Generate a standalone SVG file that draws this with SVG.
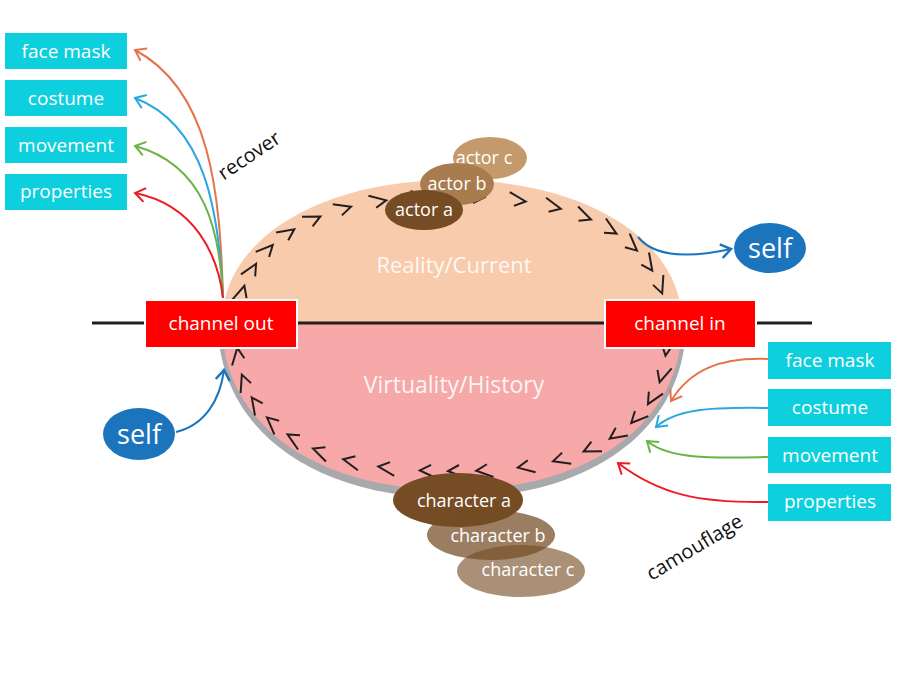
<svg xmlns="http://www.w3.org/2000/svg" width="900" height="680" viewBox="0 0 900 680">
<style>
.txt{font-family:"Open Sans","Noto Sans","DejaVu Sans",sans-serif;fill:#ffffff;text-anchor:middle}
.box{fill:#0dcfdd}
.lbl{font-size:19px}
.chan{fill:#ff0000;stroke:#ffffff;stroke-width:2}
.conn{fill:none;stroke-width:2}
.dark{font-family:"Open Sans","Noto Sans","DejaVu Sans",sans-serif;fill:#111111;font-size:20px;text-anchor:middle}
</style>
<defs>
<marker id="chev" viewBox="-16 -10 22 20" refX="0" refY="0" markerWidth="22" markerHeight="20" markerUnits="userSpaceOnUse" orient="auto" overflow="visible">
<path d="M-13,-7 L4,0 L-7,6" fill="none" stroke="#231f20" stroke-width="2"/>
</marker>
<marker id="aO" viewBox="-12 -9 14 18" refX="0" refY="0" markerWidth="14" markerHeight="18" markerUnits="userSpaceOnUse" orient="auto"><path d="M-10,-7 L0,0 L-10,7" fill="none" stroke="#e5734b" stroke-width="2"/></marker>
<marker id="aB" viewBox="-12 -9 14 18" refX="0" refY="0" markerWidth="14" markerHeight="18" markerUnits="userSpaceOnUse" orient="auto"><path d="M-10,-7 L0,0 L-10,7" fill="none" stroke="#2aa8e0" stroke-width="2"/></marker>
<marker id="aG" viewBox="-12 -9 14 18" refX="0" refY="0" markerWidth="14" markerHeight="18" markerUnits="userSpaceOnUse" orient="auto"><path d="M-10,-7 L0,0 L-10,7" fill="none" stroke="#6ab344" stroke-width="2"/></marker>
<marker id="aR" viewBox="-12 -9 14 18" refX="0" refY="0" markerWidth="14" markerHeight="18" markerUnits="userSpaceOnUse" orient="auto"><path d="M-10,-7 L0,0 L-10,7" fill="none" stroke="#ed1c24" stroke-width="2"/></marker>
<marker id="aS" viewBox="-12 -9 14 18" refX="0" refY="0" markerWidth="14" markerHeight="18" markerUnits="userSpaceOnUse" orient="auto"><path d="M-10,-7 L0,0 L-10,7" fill="none" stroke="#1c75bc" stroke-width="2.5"/></marker>
</defs>
<rect width="900" height="680" fill="#ffffff"/>

<g id="body">
<path d="M218,323 C218,428 312,498 452,498 C592,498 686,428 686,323 Z" fill="#a7a9ac"/>
<path d="M222,323 C222,240 319,180 452,180 C585,180 682,240 682,323 Z" fill="#f8cbad"/>
<path d="M222,323 C222,423 314,490 452,490 C590,490 682,423 682,323 Z" fill="#f6a9a8"/>
<path d="M666.3,351.9 L660.9,378.4 L650.1,400.8 L634.1,420.2 L613.1,436.6 L587.3,450 L556.9,460.2 L521.7,467.1 L480.2,470.6 L452,471 L423.8,470.6 L382.3,467.1 L347.1,460.2 L316.7,450 L290.9,436.6 L269.9,420.2 L253.9,400.8 L243.1,378.4 L237.7,351.9 L237.7,316.1 L243.1,289.6 L253.9,267.2 L269.9,247.8 L290.9,231.4 L316.7,218 L347.1,207.8 L382.3,200.9 L423.8,197.4 L452,197 L480.2,197.4 L521.7,200.9 L556.9,207.8 L587.3,218 L613.1,231.4 L634.1,247.8 L650.1,267.2 L660.9,289.6 L666.3,316.1" fill="none" stroke="none" marker-start="url(#chev)" marker-mid="url(#chev)" marker-end="url(#chev)"/>
<text class="txt" x="454" y="273" font-size="22" fill-opacity="0.9">Reality/Current</text>
<text class="txt" x="454" y="393" font-size="23" fill-opacity="0.9">Virtuality/History</text>
</g>

<line x1="92" y1="323" x2="812" y2="323" stroke="#231f20" stroke-width="3"/>

<g id="connectors">
<path class="conn" stroke="#e5734b" marker-end="url(#aO)" d="M223,298 C220,190 210,90 135,50"/>
<path class="conn" stroke="#2aa8e0" marker-end="url(#aB)" d="M223,298 C219,210 205,125 135,98"/>
<path class="conn" stroke="#6ab344" marker-end="url(#aG)" d="M223,298 C220,230 205,165 135,146"/>
<path class="conn" stroke="#ed1c24" marker-end="url(#aR)" d="M223,298 C218,255 195,205 135,193"/>
<path class="conn" stroke="#e5734b" marker-end="url(#aO)" d="M768,359 C720,357 690,370 671,401"/>
<path class="conn" stroke="#2aa8e0" marker-end="url(#aB)" d="M768,408 C705,407 675,410 656,427"/>
<path class="conn" stroke="#6ab344" marker-end="url(#aG)" d="M768,457 C715,458 670,460 647,441"/>
<path class="conn" stroke="#ed1c24" marker-end="url(#aR)" d="M768,502 C700,503 660,495 618,463"/>
<path class="conn" stroke="#1c75bc" stroke-width="2.5" marker-end="url(#aS)" d="M638,237 C655,258 690,258 731,249"/>
<path class="conn" stroke="#1c75bc" stroke-width="2.5" marker-end="url(#aS)" d="M176,432 C205,425 220,400 224,370"/>
</g>

<text class="dark" transform="translate(253,161) rotate(-34)">recover</text>
<text class="dark" font-size="21" transform="translate(698,553) rotate(-31)">camouflage</text>

<g id="channel-out"><rect class="chan" x="145" y="300" width="152" height="48"/><text class="txt lbl" x="221" y="330">channel out</text></g>
<g id="channel-in"><rect class="chan" x="605" y="300" width="151" height="48"/><text class="txt lbl" x="680" y="330">channel in</text></g>

<g id="left-face-mask"><rect class="box" x="5" y="33" width="122" height="36"/><text class="txt lbl" x="66" y="58">face mask</text></g>
<g id="left-costume"><rect class="box" x="5" y="80" width="122" height="36"/><text class="txt lbl" x="66" y="105">costume</text></g>
<g id="left-movement"><rect class="box" x="5" y="127" width="122" height="36"/><text class="txt lbl" x="66" y="152">movement</text></g>
<g id="left-properties"><rect class="box" x="5" y="174" width="122" height="36"/><text class="txt lbl" x="66" y="198">properties</text></g>

<g id="right-face-mask"><rect class="box" x="768" y="342" width="123" height="37"/><text class="txt lbl" x="830" y="367">face mask</text></g>
<g id="right-costume"><rect class="box" x="768" y="389" width="123" height="37"/><text class="txt lbl" x="830" y="414">costume</text></g>
<g id="right-movement"><rect class="box" x="768" y="437" width="123" height="36"/><text class="txt lbl" x="830" y="462">movement</text></g>
<g id="right-properties"><rect class="box" x="768" y="484" width="123" height="37"/><text class="txt lbl" x="830" y="508">properties</text></g>

<g id="self-right"><ellipse cx="770" cy="248" rx="36" ry="25" fill="#1c75bc"/><text class="txt" x="770" y="258" font-size="27">self</text></g>
<g id="self-left"><ellipse cx="139" cy="434" rx="36" ry="26" fill="#1c75bc"/><text class="txt" x="139" y="444" font-size="27">self</text></g>

<g id="actor-c"><ellipse cx="490" cy="158" rx="37" ry="21" fill="#c49a6c"/><text class="txt" x="484" y="164" font-size="18">actor c</text></g>
<g id="actor-b"><ellipse cx="457" cy="184" rx="37" ry="21" fill="#a97c50"/><text class="txt" x="457" y="190" font-size="18">actor b</text></g>
<g id="actor-a"><ellipse cx="424" cy="210" rx="39" ry="20" fill="#754c24"/><text class="txt" x="424" y="216" font-size="18">actor a</text></g>

<g id="character-a"><ellipse cx="458" cy="500" rx="65" ry="27" fill="#754c24"/><text class="txt" x="464" y="507" font-size="18">character a</text></g>
<g id="character-b"><ellipse cx="491" cy="535" rx="64" ry="25" fill="#754c24" fill-opacity="0.72"/><text class="txt" x="498" y="542" font-size="18">character b</text></g>
<g id="character-c"><ellipse cx="521" cy="571" rx="64" ry="26" fill="#754c24" fill-opacity="0.62"/><text class="txt" x="528" y="576" font-size="18">character c</text></g>
</svg>
